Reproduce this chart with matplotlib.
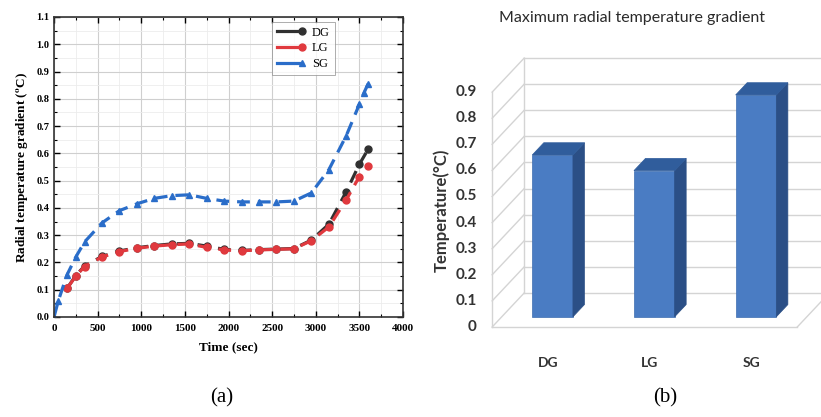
import matplotlib
matplotlib.use("Agg")
import matplotlib.pyplot as plt
from matplotlib.lines import Line2D
from matplotlib.patches import Polygon
from matplotlib.ticker import MultipleLocator
from matplotlib.legend_handler import HandlerLine2D
import numpy as np

plt.rcParams['mathtext.fontset'] = 'stix'

# ---------------- data (a) ----------------
time_sg = [0, 50, 150, 250, 350, 550, 750, 950, 1150, 1350, 1550, 1750, 1950,
           2150, 2350, 2550, 2750, 2950, 3150, 3350, 3500, 3550, 3600]
sg = [0.0, 0.06, 0.155, 0.22, 0.275, 0.345, 0.39, 0.415, 0.435, 0.445, 0.448, 0.435, 0.425,
      0.422, 0.422, 0.422, 0.425, 0.455, 0.54, 0.665, 0.78, 0.82, 0.855]

time_lg = [150, 250, 350, 550, 750, 950, 1150, 1350, 1550, 1750, 1950,
           2150, 2350, 2550, 2750, 2950, 3150, 3350, 3500, 3600]
lg = [0.105, 0.15, 0.185, 0.22, 0.24, 0.252, 0.26, 0.265, 0.268, 0.255, 0.246,
      0.243, 0.246, 0.248, 0.25, 0.28, 0.33, 0.43, 0.515, 0.555]
dg = [0.105, 0.152, 0.187, 0.222, 0.242, 0.254, 0.262, 0.268, 0.27, 0.26, 0.248,
      0.244, 0.247, 0.249, 0.251, 0.282, 0.34, 0.46, 0.56, 0.615]

series_names = ["DG", "LG", "SG"]
series_colors = ["#303030", "#e0393e", "#2a6dc9"]
series_markers = ["o", "o", "^"]

# ---------------- data (b) ----------------
bar_cats = ["DG", "LG", "SG"]
bar_vals = [0.62, 0.56, 0.85]
bar_yticks = [0, 0.1, 0.2, 0.3, 0.4, 0.5, 0.6, 0.7, 0.8, 0.9]
bar_ytick_labels = ["0", "0.1", "0.2", "0.3", "0.4", "0.5", "0.6", "0.7", "0.8", "0.9"]

W, H = 821, 417
fig = plt.figure(figsize=(W / 100, H / 100), dpi=100)

# ================= panel (a) =================
serif = "Liberation Serif"
ax = fig.add_axes([54 / W, 1 - 317 / H, 349 / W, 300 / H])
ax.set_xlim(0, 4000)
ax.set_ylim(0, 1.1)
ax.xaxis.set_major_locator(MultipleLocator(500))
ax.xaxis.set_minor_locator(MultipleLocator(250))
ax.yaxis.set_major_locator(MultipleLocator(0.1))
ax.yaxis.set_minor_locator(MultipleLocator(0.05))
ax.grid(which='major', color='#cfcfcf', lw=0.8)
ax.grid(which='minor', color='#ececec', lw=0.6)
ax.set_axisbelow(True)
ax.tick_params(which='both', direction='in', top=True, right=True)
ax.tick_params(which='major', length=4, width=1)
ax.tick_params(which='minor', length=2, width=0.8)
for s in ax.spines.values():
    s.set_linewidth(1.2)
    s.set_color('#333333')

data = [(time_lg, dg), (time_lg, lg), (time_sg, sg)]
for (t, v), name, c, m in zip(data, series_names, series_colors, series_markers):
    ax.plot(t, v, color=c, lw=2.3, ls=(0, (4, 2.5)), marker=m, ms=5, label=name)

ax.set_yticks(np.arange(0, 1.11, 0.1))
ax.set_yticklabels([f"{x:.1f}" for x in np.arange(0, 1.11, 0.1)],
                   fontfamily=serif, fontweight='bold', fontsize=7.5)
ax.set_xticks(np.arange(0, 4001, 500))
ax.set_xticklabels([str(x) for x in range(0, 4001, 500)],
                   fontfamily=serif, fontweight='bold', fontsize=8)
ax.tick_params(axis='x', pad=5)
ax.set_xlabel("Time (sec)", fontfamily=serif, fontweight='bold', fontsize=9.5, labelpad=6)
ax.set_ylabel(r"Radial temperature gradient ($^{\mathbf{o}}$C)", fontfamily=serif,
              fontweight='bold', fontsize=9.5, labelpad=4)


class EndMarkerHandler(HandlerLine2D):
    def create_artists(self, legend, orig_handle, xdescent, ydescent, width, height,
                       fontsize, trans):
        y = height / 2 - ydescent
        line = Line2D([-xdescent, width - xdescent], [y, y], color=orig_handle.get_color(),
                      lw=orig_handle.get_linewidth(), transform=trans)
        mk = Line2D([width - xdescent], [y], color=orig_handle.get_color(), ls='none',
                    marker=orig_handle.get_marker(), ms=orig_handle.get_markersize(),
                    transform=trans)
        return [line, mk]


handles = [Line2D([0], [0], color=c, lw=2.3, marker=m, ms=5)
           for c, m in zip(series_colors, series_markers)]
leg = ax.legend(handles, series_names, loc='upper left', bbox_to_anchor=(0.625, 0.985),
                borderaxespad=0, prop={'family': serif, 'size': 9}, frameon=True,
                fancybox=False, edgecolor='#888888', handlelength=2.0,
                labelspacing=0.3, borderpad=0.4,
                handler_map={Line2D: EndMarkerHandler()})
leg.get_frame().set_linewidth(0.6)

fig.text(222 / W, 1 - 398 / H, "(a)", fontfamily=serif, fontsize=15, ha='center', va='center')

# ================= panel (b) =================
sans = "Lato"
# front plane: x_pix = 543 + 101.7*c ; y_pix = 327 - 261*v
px_c, py_v = 101.7, 261.0
x_left_pix, x_right_pix = 487, 821
y_bot_pix, y_top_pix = 345, 40
bx = fig.add_axes([x_left_pix / W, 1 - y_bot_pix / H,
                   (x_right_pix - x_left_pix) / W, (y_bot_pix - y_top_pix) / H])
bx.set_xlim((x_left_pix - 543) / px_c, (x_right_pix - 543) / px_c)
bx.set_ylim((327 - y_bot_pix) / py_v, (327 - y_top_pix) / py_v)
bx.axis('off')


def off(d):
    return 32 * d / px_c, 34 * d / py_v


grid_col = '#d4d4d4'
dx1, dy1 = off(1.0)
left = -0.5
right = 2.5
for v in bar_yticks:
    bx.plot([left + dx1, 4.0], [v + dy1, v + dy1], color=grid_col, lw=1.0)
    bx.plot([left, left + dx1], [v, v + dy1], color=grid_col, lw=1.0)
bx.plot([left, left], [0, max(bar_yticks)], color=grid_col, lw=1.0)
bx.plot([left + dx1, left + dx1], [dy1, max(bar_yticks) + dy1], color=grid_col, lw=1.0)
bx.plot([left, right], [0, 0], color=grid_col, lw=1.0)
bx.plot([right, right + dx1], [0, dy1], color=grid_col, lw=1.0)

d0, d1 = 0.3, 0.66
dxa, dya = off(d0)
dxb, dyb = off(d1)
bw = 0.4
xs = np.arange(len(bar_cats))
bx.bar(xs + dxa, bar_vals, width=bw, bottom=dya, color='#4a7cc3', edgecolor='#3e6db0',
       lw=0.5, zorder=3)
for x, v in zip(xs, bar_vals):
    side = [(x + bw / 2 + dxa, dya), (x + bw / 2 + dxb, dyb),
            (x + bw / 2 + dxb, v + dyb), (x + bw / 2 + dxa, v + dya)]
    top = [(x - bw / 2 + dxa, v + dya), (x - bw / 2 + dxb, v + dyb),
           (x + bw / 2 + dxb, v + dyb), (x + bw / 2 + dxa, v + dya)]
    bx.add_patch(Polygon(side, closed=True, fc='#2b4f86', ec='#2b4f86', lw=0.5, zorder=3))
    bx.add_patch(Polygon(top, closed=True, fc='#305d9c', ec='#305d9c', lw=0.5, zorder=3))

for v, lab in zip(bar_yticks, bar_ytick_labels):
    bx.text(left - 0.15, v, lab, ha='right', va='center', fontfamily=sans,
            fontweight='bold', fontsize=11, color='#333333', clip_on=False)
for x, lab in zip(xs, bar_cats):
    bx.text(x + 0.05, -0.138, lab, ha='center', va='center', fontfamily=sans,
            fontweight='bold', fontsize=10, color='#333333', clip_on=False)

fig.text(441 / W, 1 - 210 / H, "Temperature(\u00b0C)", rotation=90, ha='center', va='center',
         fontfamily=sans, fontweight='bold', fontsize=12, color='#333333')
fig.text(632 / W, 1 - 18 / H, "Maximum radial temperature gradient", ha='center', va='center',
         fontfamily=sans, fontsize=11.5, color='#2a2a2a')
fig.text(665 / W, 1 - 398 / H, "(b)", fontfamily=serif, fontsize=15, ha='center', va='center')

fig.savefig("out.png", dpi=100)
